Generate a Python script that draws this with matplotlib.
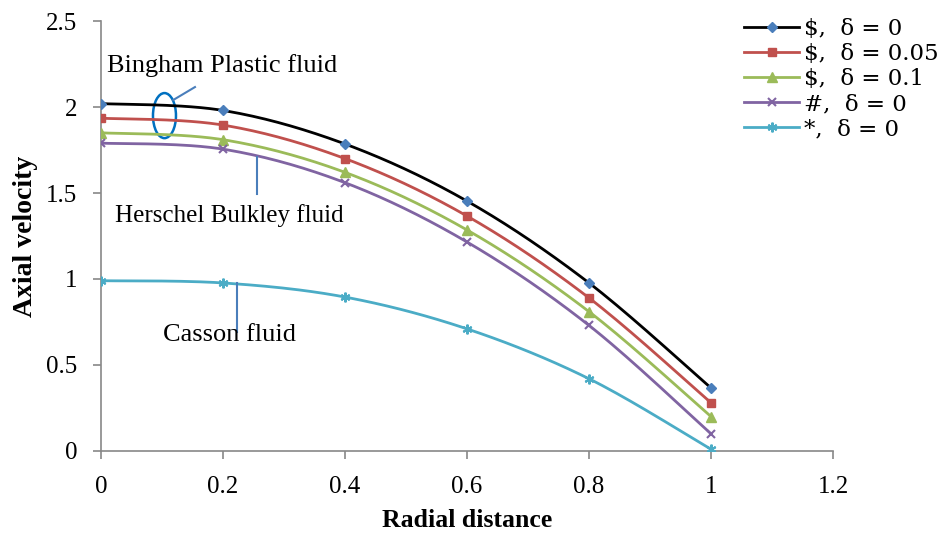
import numpy as np
import matplotlib
matplotlib.use("Agg")
import matplotlib.pyplot as plt
from matplotlib.patches import Ellipse

# =========================
# DATA
# =========================
radial = [0, 0.2, 0.4, 0.6, 0.8, 1.0]

bingham_d0 = [2.02, 1.98, 1.785, 1.453, 0.977, 0.366]
bingham_d005 = [1.935, 1.895, 1.70, 1.366, 0.89, 0.28]
bingham_d01 = [1.85, 1.81, 1.62, 1.285, 0.81, 0.20]
herschel_d0 = [1.79, 1.755, 1.56, 1.215, 0.73, 0.10]
casson_d0 = [0.99, 0.977, 0.895, 0.71, 0.42, 0.01]

labels = [r"\$,  δ = 0", r"\$,  δ = 0.05", r"\$,  δ = 0.1", "#,  δ = 0", "*,  δ = 0"]

# =========================
# HELPERS
# =========================
def smooth(x, y, n=30):
    # Excel-like smoothed line: cubic bezier through the points
    x = np.asarray(x, float)
    y = np.asarray(y, float)
    px = np.concatenate([[x[0]], x, [x[-1]]])
    py = np.concatenate([[y[0]], y, [y[-1]]])
    xs, ys = [], []
    t = np.linspace(0, 1, n)
    for i in range(1, len(px) - 2):
        p0 = np.array([px[i], py[i]])
        p3 = np.array([px[i + 1], py[i + 1]])
        c1 = p0 + (np.array([px[i + 1], py[i + 1]]) - np.array([px[i - 1], py[i - 1]])) / 6
        c2 = p3 - (np.array([px[i + 2], py[i + 2]]) - np.array([px[i], py[i]])) / 6
        b = ((1 - t)[:, None] ** 3 * p0 + 3 * ((1 - t) ** 2 * t)[:, None] * c1
             + 3 * ((1 - t) * t ** 2)[:, None] * c2 + (t ** 3)[:, None] * p3)
        xs.extend(b[:, 0])
        ys.extend(b[:, 1])
    return xs, ys

# =========================
# PLOT
# =========================
plt.rcParams["font.family"] = ["Liberation Serif", "DejaVu Serif"]

fig = plt.figure(figsize=(9.46, 5.36), dpi=100)
ax = fig.add_axes([0.1068, 0.1586, 0.7738, 0.8022])

series = [
    (bingham_d0, "black", "#4A7EBB", "D", 5),
    (bingham_d005, "#C0504D", "#C0504D", "s", 6),
    (bingham_d01, "#9BBB59", "#9BBB59", "^", 6.5),
    (herschel_d0, "#8064A2", "#8064A2", "x", 6),
    (casson_d0, "#4BACC6", "#4BACC6", (6, 2, 0), 7),
]

for (vals, lc, mc, mk, ms), lab in zip(series, labels):
    mew = 1.5 if mk in ("x",) or isinstance(mk, tuple) else 1.0
    sx, sy = smooth(radial, vals)
    ax.plot(sx, sy, color=lc, linewidth=2, zorder=2)
    ax.plot(radial, vals, linestyle="none", marker=mk, markersize=ms,
            color=mc, markeredgecolor=mc, markeredgewidth=mew, zorder=3)
    ax.plot([], [], color=lc, linewidth=2, marker=mk, markersize=ms,
            markerfacecolor=mc, markeredgecolor=mc, markeredgewidth=mew, label=lab)

ax.set_xlim(0, 1.2)
ax.set_ylim(0, 2.5)
ax.set_xticks([0, 0.2, 0.4, 0.6, 0.8, 1, 1.2])
ax.set_xticklabels(["0", "0.2", "0.4", "0.6", "0.8", "1", "1.2"])
ax.set_yticks([0, 0.5, 1, 1.5, 2, 2.5])
ax.set_yticklabels(["0", "0.5", "1", "1.5", "2", "2.5"])

for side in ["top", "right"]:
    ax.spines[side].set_visible(False)
for side in ["left", "bottom"]:
    ax.spines[side].set_color("#888888")
    ax.spines[side].set_linewidth(1.2)
ax.tick_params(direction="out", length=6, width=1.2, color="#888888",
               labelsize=18)
ax.tick_params(axis="y", pad=11)
ax.tick_params(axis="x", pad=12)

ax.set_xlabel("Radial distance", fontsize=18.5, fontweight="bold", labelpad=8)
ax.set_ylabel("Axial velocity", fontsize=20, fontweight="bold", labelpad=6)

# annotations
ax.text(0.198, 2.244, "Bingham Plastic fluid", fontsize=19, ha="center", va="center")
ax.add_patch(Ellipse((0.104, 1.95), 0.0377, 0.262, fill=False,
                     edgecolor="#0070C0", linewidth=1.8, clip_on=False))
ax.plot([0.118, 0.154], [2.04, 2.116], color="#4A7EBB", linewidth=1.5)

ax.text(0.211, 1.372, "Herschel Bulkley fluid", fontsize=18, ha="center", va="center")
ax.plot([0.256, 0.256], [1.709, 1.494], color="#4A7EBB", linewidth=1.5)

ax.text(0.211, 0.674, "Casson fluid", fontsize=19, ha="center", va="center")
ax.plot([0.223, 0.223], [0.977, 0.692], color="#4A7EBB", linewidth=1.5)

leg = fig.legend(loc="upper left", bbox_to_anchor=(0.770, 0.997), frameon=False,
                 handlelength=2.4, handletextpad=0.2, labelspacing=0.14,
                 borderpad=0.2, prop={"family": ["DejaVu Serif"], "size": 16.5})

fig.savefig("out.png", dpi=100)
